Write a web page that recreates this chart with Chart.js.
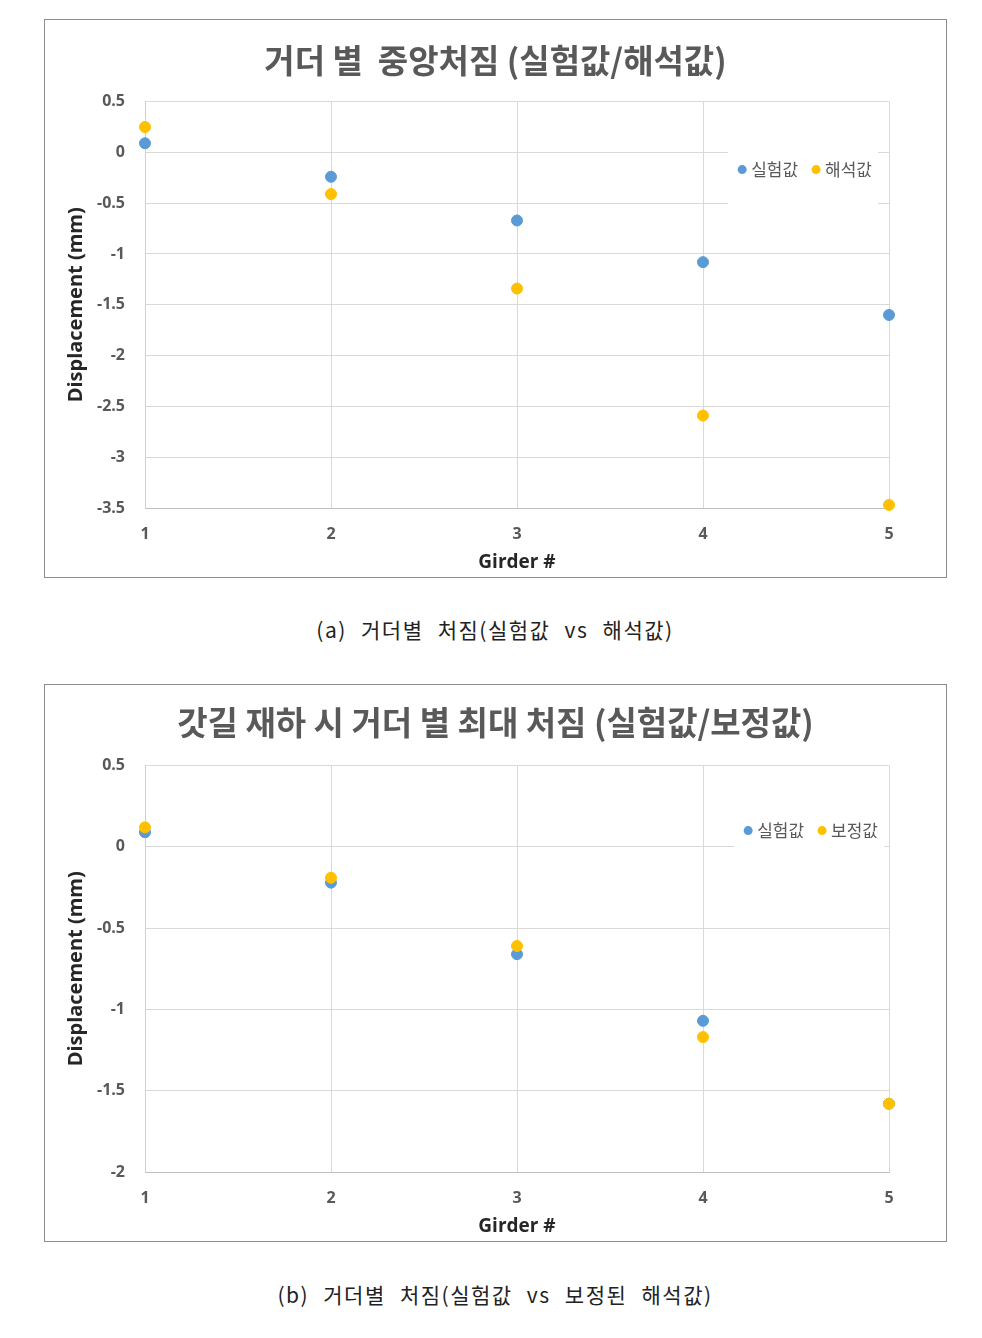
<!DOCTYPE html>
<html>
<head>
<meta charset="utf-8">
<script src="https://cdn.jsdelivr.net/npm/chart.js@4.4.1/dist/chart.umd.min.js"></script>
<style>
  body { margin: 0; background: #fff; width: 982px; height: 1338px; position: relative; }
  .box { position: absolute; left: 44px; width: 901px; border: 1px solid #8c8c8c; background: #fff; }
  .box canvas { display: block; }
  .caption { position: absolute; left: 0; width: 990px; text-align: center;
    font-family: "Noto Sans CJK KR", sans-serif; font-size: 21px; color: #222;
    letter-spacing: 1.5px; word-spacing: 8px; }
</style>
</head>
<body>
<div class="box" style="top:19px;height:557px"><canvas id="chartA" width="901" height="557"></canvas></div>
<div class="caption" style="top:614px">(a) 거더별 처짐(실험값 vs 해석값)</div>
<div class="box" style="top:684px;height:556px"><canvas id="chartB" width="901" height="556"></canvas></div>
<div class="caption" style="top:1279px">(b) 거더별 처짐(실험값 vs 보정된 해석값)</div>

<script>
// girder numbers (x axis)
const girders = [1, 2, 3, 4, 5];

// (a) measured vs analysis, mm
const measuredA = [0.09, -0.24, -0.67, -1.08, -1.6];
const analysisA = [0.25, -0.41, -1.34, -2.59, -3.47];

// (b) measured vs corrected analysis, mm
const measuredB = [0.09, -0.22, -0.66, -1.07, -1.58];
const correctedB = [0.12, -0.19, -0.61, -1.17, -1.58];

const titleA = "거더 별  중앙처짐 (실험값/해석값)";
const titleB = "갓길 재하 시 거더 별 최대 처짐 (실험값/보정값)";

const BLUE = "#5b9bd5";
const YELLOW = "#ffc000";
const GREY = "#595959";

// excel style legend box inside the plot, top right
const boxLegend = {
  id: "boxLegend",
  afterDraw(chart, args, opts) {
    const ctx = chart.ctx;
    const area = chart.chartArea;
    ctx.save();
    ctx.font = "17px 'Noto Sans CJK KR'";
    const items = chart.data.datasets;
    const gap = 18, dot = 9;
    let w = 0;
    items.forEach((d) => { w += dot + ctx.measureText(d.label).width; });
    w += gap * (items.length - 1);
    let x = area.right - opts.right - w;
    const y = area.top + opts.top;
    ctx.fillStyle = "#fff";
    ctx.fillRect(x - 14, y - opts.boxUp, w + 20, opts.boxH);
    ctx.textBaseline = "middle";
    items.forEach((d) => {
      ctx.fillStyle = d.backgroundColor;
      ctx.beginPath();
      ctx.arc(x, y, 4.5, 0, Math.PI * 2);
      ctx.fill();
      x += dot;
      ctx.fillStyle = GREY;
      ctx.fillText(d.label, x, y);
      x += ctx.measureText(d.label).width + gap;
    });
    ctx.restore();
  },
};

function makeChart(id, title, s1, s2, label2, yMin, legendOpts) {
  const ctx = document.getElementById(id).getContext("2d");
  return new Chart(ctx, {
    type: "scatter",
    data: {
      datasets: [
        {
          label: "실험값",
          data: girders.map((g, i) => ({ x: g, y: s1[i] })),
          backgroundColor: BLUE,
          borderColor: BLUE,
          pointRadius: 5.5,
          clip: false,
          order: 1,
        },
        {
          label: label2,
          data: girders.map((g, i) => ({ x: g, y: s2[i] })),
          backgroundColor: YELLOW,
          borderColor: YELLOW,
          pointRadius: 5.5,
          clip: false,
          order: 0,
        },
      ],
    },
    options: {
      responsive: false,
      animation: false,
      layout: { padding: 0 },
      plugins: {
        legend: { display: false },
        tooltip: { enabled: false },
        title: {
          display: true,
          text: title,
          color: GREY,
          font: { family: "'Noto Sans CJK KR'", size: 33, weight: "bold" },
          padding: { top: legendOpts.titleTop, bottom: legendOpts.titleBottom },
        },
        boxLegend: legendOpts,
      },
      scales: {
        x: {
          type: "linear",
          min: 1,
          max: 5,
          afterFit: (s) => { s.height = 69; },
          ticks: {
            stepSize: 1,
            padding: 17,
            color: GREY,
            font: { family: "'Open Sans'", size: 16, weight: "bold" },
          },
          grid: { color: "#d9d9d9", drawTicks: false },
          border: { color: "#bfbfbf" },
          title: {
            display: true,
            text: "Girder #",
            color: "#262626",
            font: { family: "'Open Sans'", size: 19, weight: "bold" },
            padding: { top: 0, bottom: 3 },
          },
        },
        y: {
          min: yMin,
          max: 0.5,
          afterFit: (s) => { s.width = 100; },
          ticks: {
            stepSize: 0.5,
            padding: 20,
            color: GREY,
            font: { family: "'Open Sans'", size: 16, weight: "bold" },
            callback: (v) => String(v),
          },
          grid: { color: "#d9d9d9", drawTicks: false },
          border: { color: "#d0d0d0" },
          title: {
            display: true,
            text: "Displacement (mm)",
            color: "#262626",
            font: { family: "'Open Sans'", size: 20, weight: "bold" },
            padding: { top: 19, bottom: 0 },
          },
        },
        // empty right margin so the title stays centred on the whole box
        spacer: {
          position: "right",
          afterFit: (s) => { s.width = 57; },
          ticks: { display: false },
          grid: { display: false, drawTicks: false },
          border: { display: false },
        },
      },
    },
    plugins: [boxLegend],
  });
}

makeChart("chartA", titleA, measuredA, analysisA, "해석값", -3.5,
  { right: 17, top: 68, boxUp: 21, boxH: 56, titleTop: 21, titleBottom: 21 });
makeChart("chartB", titleB, measuredB, correctedB, "보정값", -2,
  { right: 11, top: 65, boxUp: 22, boxH: 40, titleTop: 18, titleBottom: 23 });
</script>
</body>
</html>
